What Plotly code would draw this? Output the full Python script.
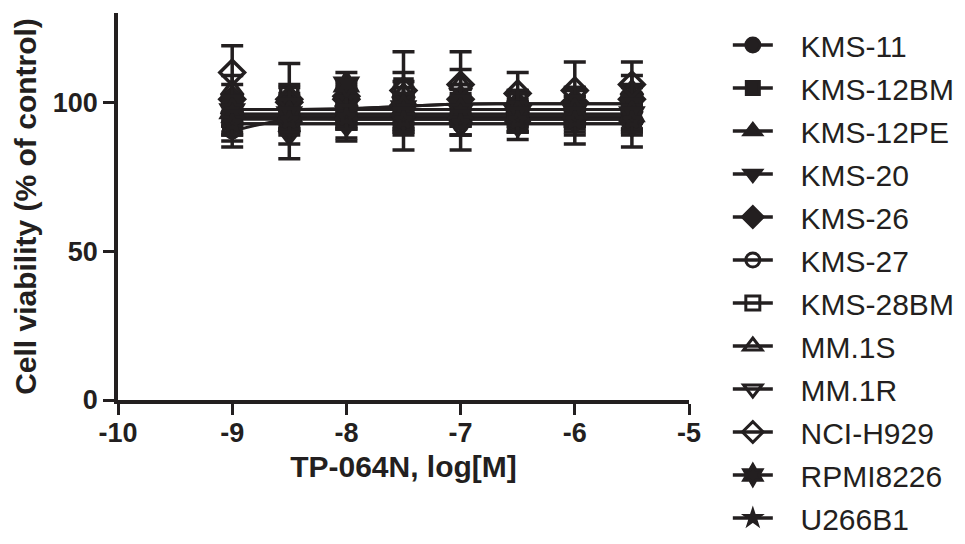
import plotly.graph_objects as go

# ---- data ----
log_conc = [-9, -8.5, -8, -7.5, -7, -6.5, -6, -5.5]
cell_lines = ["KMS-11", "KMS-12BM", "KMS-12PE", "KMS-20", "KMS-26", "KMS-27",
              "KMS-28BM", "MM.1S", "MM.1R", "NCI-H929", "RPMI8226", "U266B1"]
x_ticks = [-10, -9, -8, -7, -6, -5]
x_tick_text = ["-10", "-9", "-8", "-7", "-6", "-5"]
y_ticks = [0, 50, 100]
y_tick_text = ["0", "50", "100"]

kms11_mean = [96, 97, 95, 97, 98, 96, 97, 97]
kms11_sd = [4, 5, 4, 6, 5, 4, 5, 4]
kms11_fit = [96.0, 96.0, 96.0, 96.0, 96.0, 96.0, 96.0, 96.0]

kms12bm_mean = [94, 95, 96, 93, 96, 95, 96, 95]
kms12bm_sd = [5, 4, 5, 9, 4, 5, 4, 4]
kms12bm_fit = [95.0, 95.0, 95.0, 95.0, 95.0, 95.0, 95.0, 95.0]

kms12pe_mean = [98, 96, 97, 96, 95, 97, 95, 98]
kms12pe_sd = [4, 5, 4, 5, 6, 4, 4, 5]
kms12pe_fit = [96.0, 96.0, 96.0, 96.0, 96.0, 96.0, 96.0, 96.0]

kms20_mean = [92, 89, 92, 95, 94, 94, 93, 93]
kms20_sd = [7, 8, 5, 5, 5, 4, 4, 4]
kms20_fit = [92.8, 92.8, 92.8, 92.8, 92.8, 92.8, 92.8, 92.8]

kms26_mean = [101, 100, 101, 99, 101, 99, 100, 101]
kms26_sd = [5, 5, 5, 6, 5, 5, 5, 4]
kms26_fit = [97.6, 97.6, 97.6, 97.6, 97.6, 97.6, 97.6, 97.6]

kms27_mean = [91, 94, 96, 97, 96, 95, 96, 95]
kms27_sd = [4, 5, 4, 5, 4, 4, 4, 5]
kms27_fit = [90.3, 94.3, 94.3, 94.3, 94.3, 94.3, 94.3, 94.3]

kms28bm_mean = [97, 103, 97, 105, 100, 100, 99, 100]
kms28bm_sd = [5, 10, 5, 12, 6, 4, 6, 6]
kms28bm_fit = [97.6, 97.6, 97.8, 98.6, 99.4, 99.5, 99.5, 99.5]

mm1s_mean = [104, 99, 100, 103, 106, 98, 99, 104]
mm1s_sd = [5, 4, 5, 4, 11, 5, 5, 5]
mm1s_fit = [97.6, 97.6, 97.6, 97.6, 97.6, 97.6, 97.6, 97.6]

mm1r_mean = [95, 92, 93, 94, 92, 92, 93, 92]
mm1r_sd = [5, 6, 5, 5, 8, 4.5, 7, 7]
mm1r_fit = [92.8, 92.8, 92.8, 92.8, 92.8, 92.8, 92.8, 92.8]

nci_mean = [110, 101, 102, 104, 106, 103, 104, 106]
nci_sd = [9, 5, 5, 6, 5, 7, 9.5, 7.5]
nci_fit = [97.6, 97.6, 97.8, 98.6, 99.4, 99.5, 99.5, 99.5]

rpmi_mean = [97, 96, 106, 98, 97, 96, 97, 96]
rpmi_sd = [5, 5, 4, 5, 5, 4, 5, 5]
rpmi_fit = [96.0, 96.0, 96.0, 96.0, 96.0, 96.0, 96.0, 96.0]

u266_mean = [93, 94, 95, 94, 93, 94, 94, 94]
u266_sd = [4, 4, 4, 4, 4, 4, 4, 4]
u266_fit = [94.3, 94.3, 94.3, 94.3, 94.3, 94.3, 94.3, 94.3]

means = [kms11_mean, kms12bm_mean, kms12pe_mean, kms20_mean, kms26_mean, kms27_mean,
         kms28bm_mean, mm1s_mean, mm1r_mean, nci_mean, rpmi_mean, u266_mean]
sds = [kms11_sd, kms12bm_sd, kms12pe_sd, kms20_sd, kms26_sd, kms27_sd,
       kms28bm_sd, mm1s_sd, mm1r_sd, nci_sd, rpmi_sd, u266_sd]
fits = [kms11_fit, kms12bm_fit, kms12pe_fit, kms20_fit, kms26_fit, kms27_fit,
        kms28bm_fit, mm1s_fit, mm1r_fit, nci_fit, rpmi_fit, u266_fit]

# ---- styles ----
INK = "#231f20"
FONT = "Liberation Sans, Arial, sans-serif"
symbols = ["circle", "square", "triangle-up", "triangle-down", "diamond", "circle-open",
           "square-open", "triangle-up-open", "triangle-down-open", "diamond-open",
           "hexagram", "star"]
sizes = [18, 17, 18, 18, 19, 17, 17, 19, 19, 19, 19, 13]
legend_sizes = [14, 13, 15, 15, 16, 14, 14, 16, 16, 16, 16, 11]

fig = go.Figure()

# fitted curves
for name, fit in zip(cell_lines, fits):
    fig.add_trace(go.Scatter(x=log_conc, y=fit, mode="lines",
                             line=dict(color=INK, width=3, shape="spline"),
                             showlegend=False, hoverinfo="skip"))

# points with error bars
for name, m, s, sym, sz in zip(cell_lines, means, sds, symbols, sizes):
    fig.add_trace(go.Scatter(
        x=log_conc, y=m, mode="markers", name=name, showlegend=False,
        marker=dict(symbol=sym, size=sz, color=INK, line=dict(color=INK, width=3.5)),
        error_y=dict(type="data", array=s, visible=True, color=INK,
                     thickness=3.5, width=11)))

# legend entries (line + marker)
for name, sym, sz in zip(cell_lines, symbols, legend_sizes):
    fig.add_trace(go.Scatter(
        x=[None], y=[None], mode="lines+markers",
        name="\u00a0\u00a0\u2009" + name, showlegend=True, legendgroup=name,
        line=dict(color=INK, width=3.5),
        marker=dict(symbol=sym, size=sz, color=INK, line=dict(color=INK, width=3))))

axis_common = dict(showline=True, linecolor=INK, linewidth=3.5, ticks="outside",
                   ticklen=11, tickwidth=3, tickcolor=INK, showgrid=False,
                   zeroline=False, mirror=False, automargin=False,
                   tickfont=dict(family=FONT, size=27, color=INK, weight="bold"))

# page body has an 8px default margin: figure is offset by (8, 8)
fig.update_layout(
    width=957, height=536,
    paper_bgcolor="white", plot_bgcolor="white",
    margin=dict(l=110, r=272, t=5, b=144),
    font=dict(family=FONT, color=INK),
    xaxis=dict(range=[-10, -5], tickvals=x_ticks, ticktext=x_tick_text,
               ticklabelstandoff=-5, **axis_common,
               title=dict(text="TP-064N, log[M]", standoff=10,
                          font=dict(family=FONT, size=30, color=INK, weight="bold"))),
    yaxis=dict(range=[0, 130], tickvals=y_ticks, ticktext=y_tick_text,
               **axis_common,
               title=dict(text="Cell viability (% of control)", standoff=8,
                          font=dict(family=FONT, size=30, color=INK, weight="bold"))),
    legend=dict(x=1.068, y=0.979, xanchor="left", yanchor="top",
                font=dict(family=FONT, size=30, color=INK),
                itemwidth=40, bgcolor="rgba(0,0,0,0)", tracegroupgap=1,
                maxheight=600),
    showlegend=True,
)

fig.write_html("out.html")
